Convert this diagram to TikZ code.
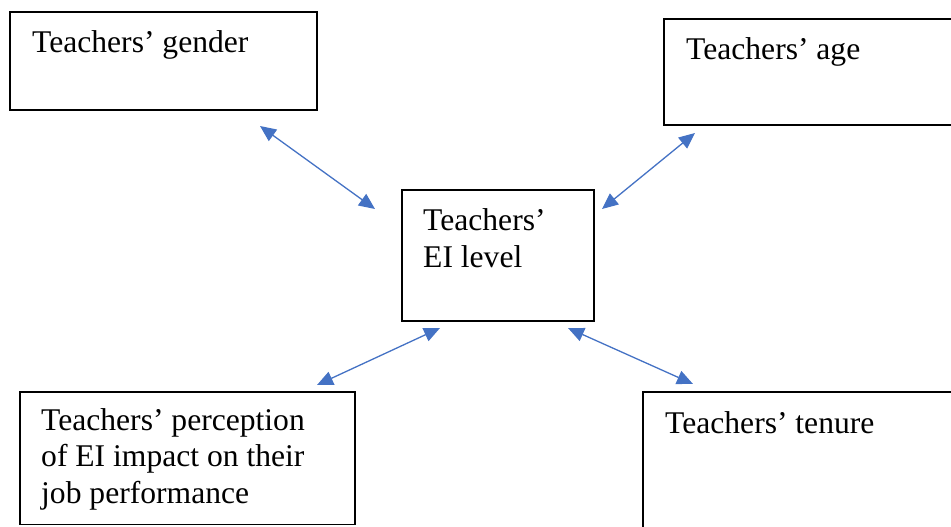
\documentclass[tikz,border=0pt]{standalone}
\usepackage{fontspec}
\setmainfont{Liberation Serif}
\usetikzlibrary{arrows.meta}
\definecolor{arrowblue}{RGB}{68,114,196}
\tikzset{
  box/.style={draw=black, line width=1.4pt, fill=none},
  lbl/.style={anchor=base west, inner sep=0pt, align=left, font=\fontsize{31.6}{36.5}\selectfont},
  link/.style={draw=arrowblue, line width=1.3pt, {Triangle[length=16pt,width=14pt]}-{Triangle[length=16pt,width=14pt]}}
}
\begin{document}
\begin{tikzpicture}[x=1pt,y=-1pt]
\useasboundingbox (0,0) rectangle (951,527);
\clip (0,0) rectangle (951,527);
% boxes
\draw[box] (10,12) rectangle (317,110);
\draw[box] (664,19) rectangle (980,125);
\draw[box] (402,190) rectangle (594,321);
\draw[box] (20,392) rectangle (355,524.5);
\draw[box] (643,392) rectangle (980,560);
% texts (base = baseline of the last line)
\node[lbl] (gender) at (32,53) {Teachers’ gender};
\node[lbl] (age) at (686,60) {Teachers’ age};
\node[lbl] (ei) at (423,267) {Teachers’\\EI level};
\node[lbl] (perc) at (41,503) {Teachers’ perception\\of EI impact on their\\job performance};
\node[lbl] (tenure) at (665,433) {Teachers’ tenure};
% arrow end points
\coordinate (g1) at (260,126);
\coordinate (g2) at (375,209);
\coordinate (a1) at (695,133);
\coordinate (a2) at (602,209);
\coordinate (p1) at (440,328);
\coordinate (p2) at (317,385);
\coordinate (t1) at (568,328);
\coordinate (t2) at (693,384);
\draw[link] (g1) -- (g2);
\draw[link] (a1) -- (a2);
\draw[link] (p1) -- (p2);
\draw[link] (t1) -- (t2);
\end{tikzpicture}
\end{document}
